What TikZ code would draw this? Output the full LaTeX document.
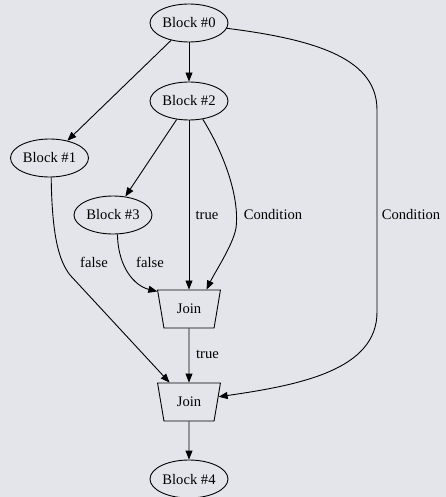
\documentclass[tikz,border=0pt]{standalone}
\usepackage{fontspec}
\setmainfont{Liberation Serif}
\usetikzlibrary{shapes.geometric,arrows.meta}
\definecolor{bg}{RGB}{228,229,234}
\tikzset{
  every node/.style={font=\fontsize{14.6}{16}\selectfont, inner sep=0pt},
  block/.style={draw, ellipse, line width=0.9pt, minimum width=78pt, minimum height=38pt},
  joinbox/.style={draw, trapezium, trapezium stretches=true, shape border rotate=180,
    trapezium angle=72.5, minimum width=63pt, minimum height=38pt, line width=0.9pt},
  edge/.style={draw, line width=0.9pt, -{Triangle[length=9pt,width=7pt]}},
  lbl/.style={anchor=center}
}
\begin{document}
\begin{tikzpicture}[x=1pt, y=-1pt]
\useasboundingbox[fill=bg] (0,0) rectangle (446,497);

% blocks and join points
\node[block] (b0) at (189,23) {Block \#0};
\node[block] (b2) at (189,101) {Block \#2};
\node[block] (b1) at (49.5,158) {Block \#1};
\node[block] (b3) at (113,215) {Block \#3};
\node[joinbox] (j1) at (189,309) {Join};
\node[joinbox] (j2) at (189,402) {Join};
\node[block] (b4) at (189,479) {Block \#4};

% straight edges
\path[edge] (b0) -- (b1);
\path[edge] (b0) -- (b2);
\path[edge] (b2) -- (b3);
\path[edge] (b2) -- (j1);
\path[edge] (j1) -- (j2);
\path[edge] (j2) -- (b4);

% curved edges
\path[edge] (b2.-53) .. controls (222,150) and (240,195) .. (236,228)
  .. controls (233,245) and (215,272) .. (j1.48);
\path[edge] (b3.-77) .. controls (118,268) and (135,286) .. (j1.151);
\path[edge] (b1.-85) .. controls (52,240) and (60,262) .. (70,275) -- (j2.135);
\path[edge] (b0.-8) .. controls (320,40) and (377,60) .. (377,110) -- (377,312)
  .. controls (377,370) and (300,385) .. (j2.10);

% edge labels
\node[lbl] (t1) at (207,215) {true};
\node[lbl] (c1) at (273,215) {Condition};
\node[lbl] (c2) at (411,215) {Condition};
\node[lbl] (f1) at (94,262) {false};
\node[lbl] (f2) at (150,262) {false};
\node[lbl] (t2) at (207.5,354) {true};
\end{tikzpicture}
\end{document}
